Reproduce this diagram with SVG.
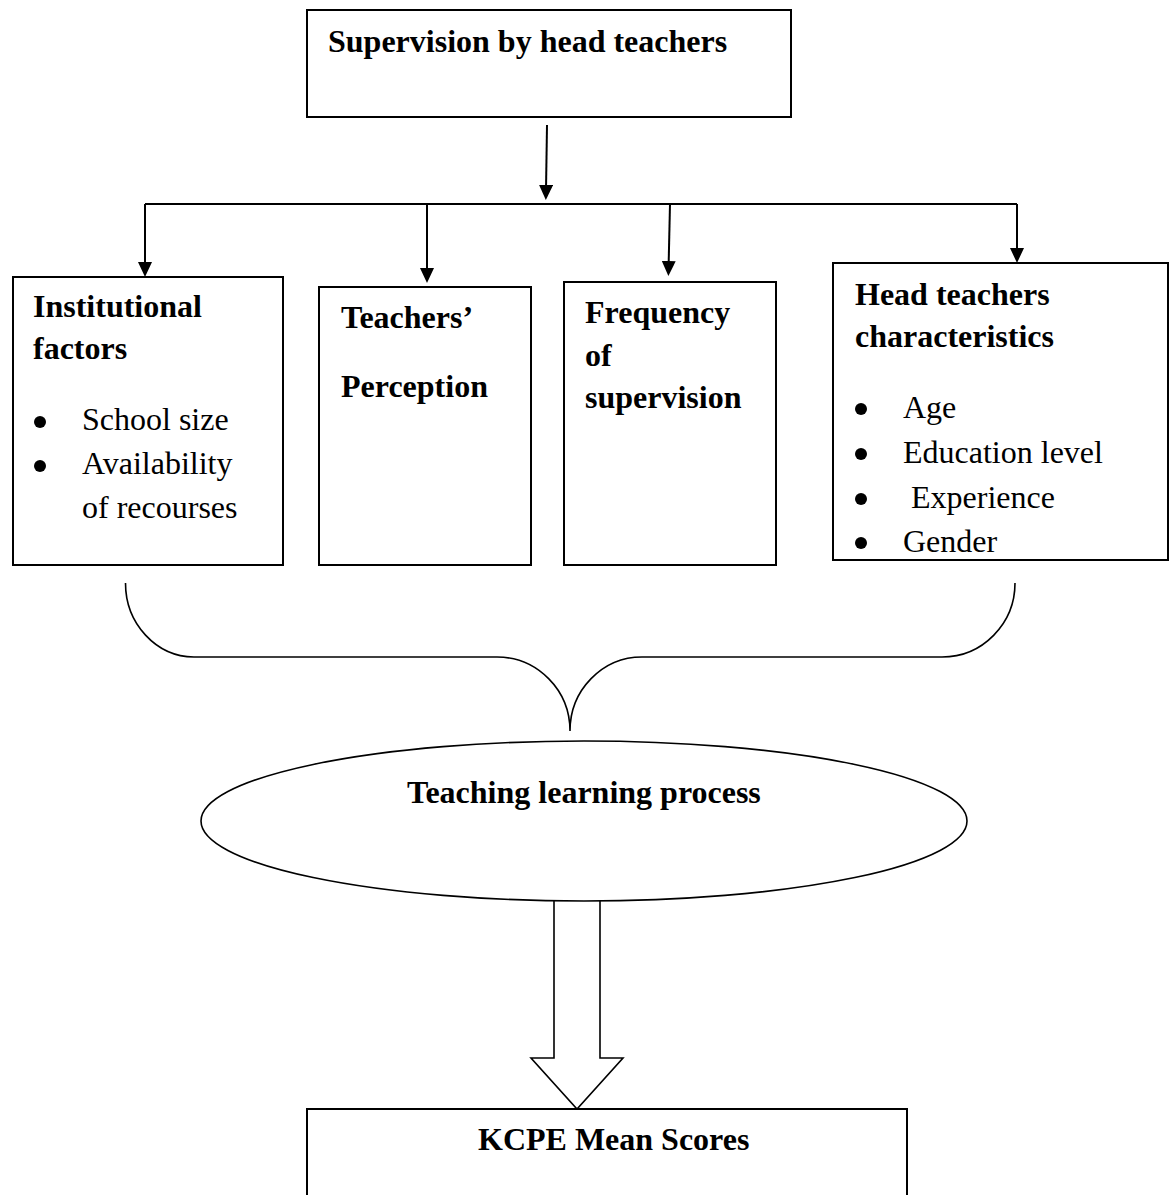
<svg xmlns="http://www.w3.org/2000/svg" width="1173" height="1195" viewBox="0 0 1173 1195">
<style>
.box{fill:#fff;stroke:#000;stroke-width:2}
.t{font-family:"Liberation Serif","Times New Roman",serif;font-size:32px;fill:#000}
.b{font-weight:bold}
.con{fill:none;stroke:#000;stroke-width:2}
.thin{fill:none;stroke:#000;stroke-width:1.6}
.dot{fill:#000}
</style>
<defs>
<marker id="ah" markerWidth="15" markerHeight="14" refX="5" refY="7" orient="auto" markerUnits="userSpaceOnUse">
<path d="M0,0 L15,7 L0,14 z" fill="#000"/>
</marker>
</defs>
<rect width="1173" height="1195" fill="#fff"/>

<g id="connectors">
<line class="con" x1="547" y1="125" x2="546" y2="190" marker-end="url(#ah)"/>
<path class="con" d="M145,204 H1017"/>
<line class="con" x1="145" y1="204" x2="145" y2="267" marker-end="url(#ah)"/>
<line class="con" x1="427" y1="204" x2="427" y2="273" marker-end="url(#ah)"/>
<line class="con" x1="670" y1="204" x2="668.6" y2="266" marker-end="url(#ah)"/>
<line class="con" x1="1017" y1="204" x2="1017" y2="253" marker-end="url(#ah)"/>
<path class="thin" d="M125.5,583 A69,74 0 0 0 194,657 L497,657 A73,74 0 0 1 570,731 A72,74 0 0 1 642,657 L942,657 A73,74 0 0 0 1015,583"/>
<path class="thin" fill="#fff" style="fill:#fff" d="M554,901 L554,1058 L531,1058 L577,1109 L623,1058 L600,1058 L600,901"/>
</g>

<g id="supervision">
<rect class="box" x="307" y="10" width="484" height="107"/>
<text class="t b" x="328" y="52">Supervision by head teachers</text>
</g>

<g id="institutional">
<rect class="box" x="13" y="277" width="270" height="288"/>
<text class="t b" x="33" y="317">Institutional</text>
<text class="t b" x="33" y="359">factors</text>
<circle class="dot" cx="40" cy="422" r="6"/>
<text class="t" x="82" y="430">School size</text>
<circle class="dot" cx="40" cy="466" r="6"/>
<text class="t" x="82" y="474">Availability</text>
<text class="t" x="82" y="518">of recourses</text>
</g>

<g id="perception">
<rect class="box" x="319" y="287" width="212" height="278"/>
<text class="t b" x="341" y="328">Teachers’</text>
<text class="t b" x="341" y="397">Perception</text>
</g>

<g id="frequency">
<rect class="box" x="564" y="282" width="212" height="283"/>
<text class="t b" x="585" y="323">Frequency</text>
<text class="t b" x="585" y="366">of</text>
<text class="t b" x="585" y="408">supervision</text>
</g>

<g id="characteristics">
<rect class="box" x="833" y="263" width="335" height="297"/>
<text class="t b" x="855" y="305">Head teachers</text>
<text class="t b" x="855" y="347">characteristics</text>
<circle class="dot" cx="861" cy="409" r="6"/>
<text class="t" x="903" y="418">Age</text>
<circle class="dot" cx="861" cy="454" r="6"/>
<text class="t" x="903" y="463">Education level</text>
<circle class="dot" cx="861" cy="499" r="6"/>
<text class="t" x="911" y="508">Experience</text>
<circle class="dot" cx="861" cy="543" r="6"/>
<text class="t" x="903" y="552">Gender</text>
</g>

<g id="process">
<ellipse cx="584" cy="821" rx="383" ry="80" fill="#fff" stroke="#000" stroke-width="1.6"/>
<text class="t b" x="407" y="803">Teaching learning process</text>
</g>

<g id="kcpe">
<rect class="box" x="307" y="1109" width="600" height="110"/>
<text class="t b" x="478" y="1150">KCPE Mean Scores</text>
</g>
</svg>
